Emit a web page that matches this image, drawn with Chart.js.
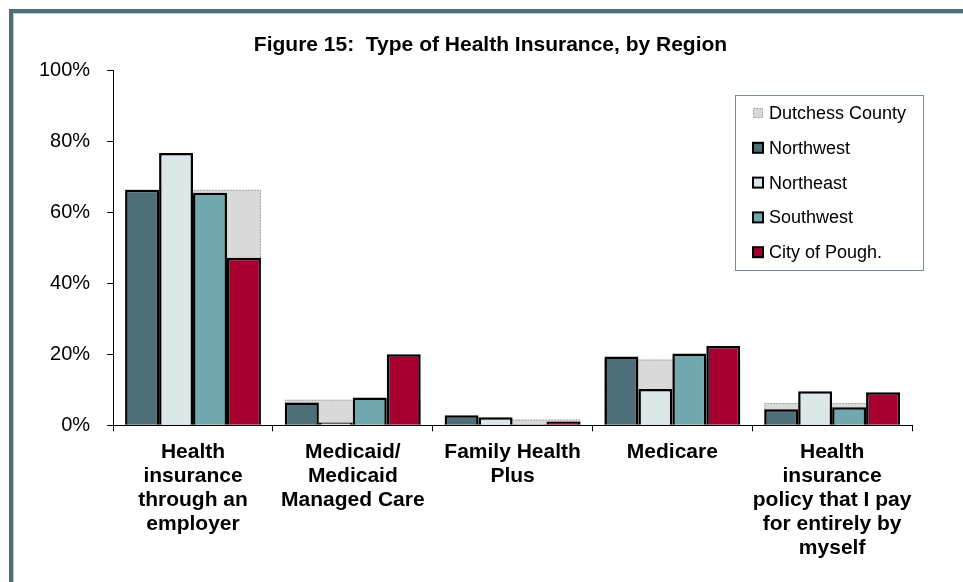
<!DOCTYPE html>
<html>
<head>
<meta charset="utf-8">
<script src="https://cdn.jsdelivr.net/npm/chart.js@4.4.1/dist/chart.umd.min.js"></script>
<style>
  html, body { margin: 0; padding: 0; background: #ffffff; }
  body { width: 963px; height: 582px; position: relative; overflow: hidden; font-family: "Liberation Sans", Arial, sans-serif; }
  #frame { position: absolute; left: 9px; top: 9px; width: 980px; height: 600px;
           border-top: 4px solid #4f6f78; border-left: 4px solid #4f6f78; }
  #frameInner { position: absolute; left: 0; top: 0; right: 0; bottom: 0;
                border-top: 1px solid #b7cbcf; border-left: 1px solid #b7cbcf; }
  #c { position: absolute; left: 14px; top: 14px; }
</style>
</head>
<body>
<div id="frame"><div id="frameInner"></div></div>
<canvas id="c" width="949" height="568"></canvas>
<script>
const titleText = "Figure 15:  Type of Health Insurance, by Region";
const categories = [
  ["Health", "insurance", "through an", "employer"],
  ["Medicaid/", "Medicaid", "Managed Care"],
  ["Family Health", "Plus"],
  ["Medicare"],
  ["Health", "insurance", "policy that I pay", "for entirely by", "myself"]
];
const seriesNames = ["Dutchess County", "Northwest", "Northeast", "Southwest", "City of Pough."];
const dutchessCounty = [66.3, 7.2, 1.6, 18.5, 6.3];
const northwest      = [66.3, 6.4, 2.8, 19.4, 4.5];
const northeast      = [76.7, 0.8, 2.3, 10.2, 9.6];
const southwest      = [65.5, 7.8, 0.3, 20.2, 5.1];
const cityOfPough    = [47.2, 20.0, 1.1, 22.3, 9.3];
const yTicks = [0, 20, 40, 60, 80, 100];

const FONT = '"Liberation Sans", Arial, sans-serif';
const colors = ["#d9d9d9", "#4e6e78", "#dbe8ea", "#70a8ad", "#a60033"];

const centerTitle = {
  id: 'centerTitle',
  afterLayout(chart) {
    const t = chart.titleBlock;
    if (t) { t.left = 2; t.right = chart.width + 2; t.width = chart.width; }
  }
};

const dottedOutline = {
  id: 'dottedOutline',
  afterDatasetDraw(chart, args) {
    if (args.index !== 0) return;
    const ctx = chart.ctx;
    ctx.save();
    ctx.strokeStyle = '#9a9a9a';
    ctx.lineWidth = 1;
    ctx.setLineDash([1.5, 1.5]);
    args.meta.data.forEach(el => {
      const p = el.getProps(['x', 'y', 'base', 'width'], true);
      const l = p.x - p.width / 2, r = p.x + p.width / 2;
      ctx.beginPath();
      ctx.moveTo(l + 0.5, p.base);
      ctx.lineTo(l + 0.5, p.y + 0.5);
      ctx.lineTo(r - 0.5, p.y + 0.5);
      ctx.lineTo(r - 0.5, p.base);
      ctx.stroke();
    });
    ctx.restore();
  }
};

const boxLegend = {
  id: 'boxLegend',
  afterDraw(chart) {
    const ctx = chart.ctx;
    const x0 = 721, y0 = 81, w = 188, h = 175;
    ctx.save();
    ctx.fillStyle = '#ffffff';
    ctx.fillRect(x0, y0, w, h);
    ctx.strokeStyle = '#6f8f96';
    ctx.lineWidth = 1;
    ctx.strokeRect(x0 + 0.5, y0 + 0.5, w, h);
    ctx.font = '18px ' + FONT;
    ctx.textBaseline = 'middle';
    chart.data.datasets.forEach((ds, i) => {
      const cy = y0 + 18 + i * 34.8;
      const sx = x0 + 18, sz = 10;
      ctx.fillStyle = ds.backgroundColor;
      ctx.fillRect(sx, cy - sz / 2, sz, sz);
      if (i === 0) {
        ctx.strokeStyle = '#9a9a9a';
        ctx.setLineDash([1.5, 1.5]);
        ctx.lineWidth = 1;
        ctx.strokeRect(sx + 0.5, cy - sz / 2 + 0.5, sz - 1, sz - 1);
        ctx.setLineDash([]);
      } else {
        ctx.strokeStyle = '#000000';
        ctx.lineWidth = 2;
        ctx.strokeRect(sx, cy - sz / 2, sz, sz);
      }
      ctx.fillStyle = '#000000';
      ctx.fillText(ds.label, x0 + 34, cy + 1);
    });
    ctx.restore();
  }
};

const values = [dutchessCounty, northwest, northeast, southwest, cityOfPough];
const datasets = values.map((vals, i) => ({
  label: seriesNames[i],
  data: vals,
  backgroundColor: colors[i],
  borderColor: i === 0 ? 'rgba(0,0,0,0)' : '#000000',
  borderWidth: i === 0 ? 0 : 2.5,
  grouped: i !== 0,
  order: i === 0 ? 1 : 0,
  categoryPercentage: 0.85,
  barPercentage: 1.0,
  borderSkipped: 'bottom'
}));

new Chart(document.getElementById('c'), {
  type: 'bar',
  data: { labels: categories, datasets },
  plugins: [centerTitle, dottedOutline, boxLegend],
  options: {
    responsive: false,
    animation: false,
    layout: { padding: { left: 8, right: 51, top: 0, bottom: 13 } },
    plugins: {
      legend: { display: false },
      tooltip: { enabled: false },
      title: {
        display: true,
        text: titleText,
        color: '#000000',
        font: { family: FONT, size: 21, weight: 'bold' },
        padding: { top: 19, bottom: 12 }
      }
    },
    scales: {
      x: {
        offset: true,
        grid: { display: true, offset: true, drawOnChartArea: false, drawTicks: true, tickLength: 6, color: '#000000' },
        border: { display: true, color: '#000000', width: 1 },
        ticks: { color: '#000000', font: { family: FONT, size: 21, weight: 'bold', lineHeight: 1.14 }, padding: 9, maxRotation: 0, autoSkip: false }
      },
      y: {
        min: 0, max: 100,
        afterBuildTicks(scale) { scale.ticks = yTicks.map(v => ({ value: v })); },
        grid: { display: true, drawOnChartArea: false, drawTicks: true, tickLength: 6, color: '#000000' },
        border: { display: true, color: '#000000', width: 1 },
        ticks: { color: '#000000', font: { family: FONT, size: 20 }, padding: 17, callback: v => v + '%' }
      }
    }
  }
});
</script>
</body>
</html>
